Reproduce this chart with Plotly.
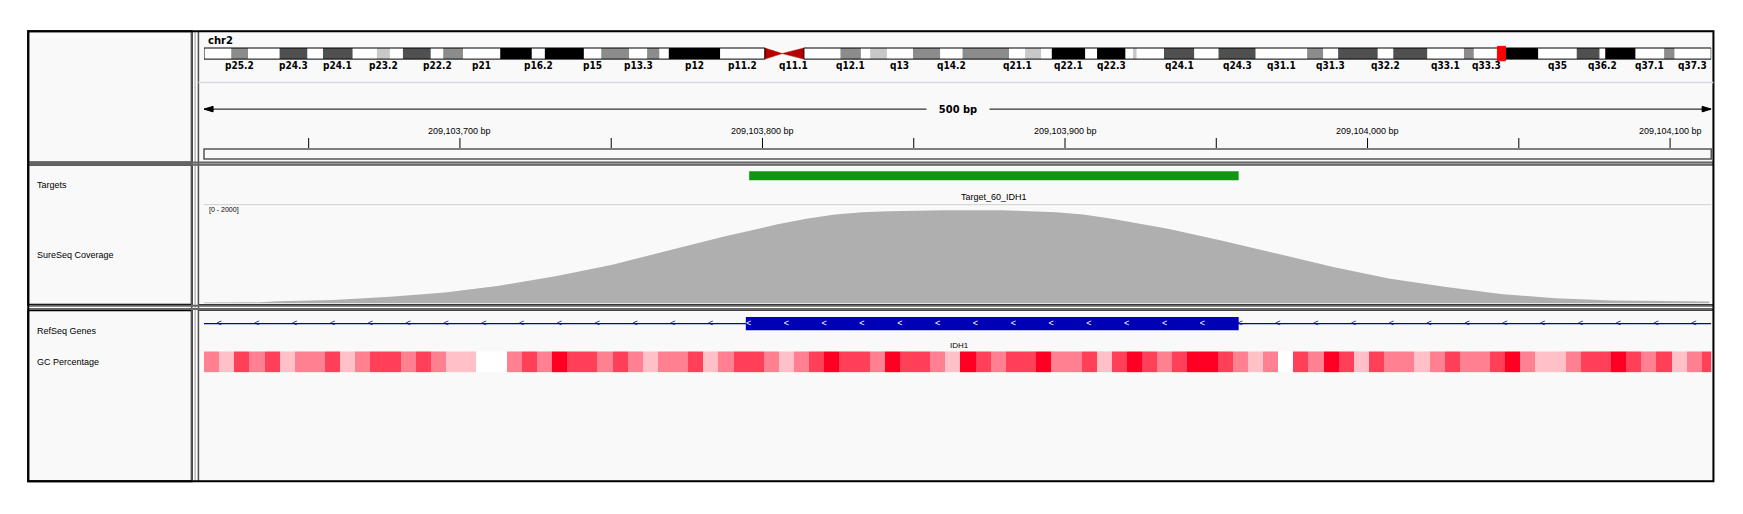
import plotly.graph_objects as go

W, H = 1743, 514
# reference-measured coordinates are converted to page pixels
def tx(p): return (p - 6.8) / 0.899
def ty(p): return (p - 6.0) / 0.9
def px(x): return tx(x) / W
def py(y): return 1 - ty(y) / H

# ---------------- data ----------------
region_start, region_end = 209103615.4, 209104113.6
ruler_ticks = [209103700, 209103800, 209103900, 209104000, 209104100]
ruler_labels = ["209,103,700 bp", "209,103,800 bp", "209,103,900 bp", "209,104,000 bp", "209,104,100 bp"]
minor_ticks = [209103650, 209103750, 209103850, 209103950, 209104050]

target_start, target_end = 209103795.6, 209103957.4
target_name = "Target_60_IDH1"
exon_start, exon_end = 209103794.5, 209103957.4
gene_name = "IDH1"
gene_label_pos = 209103865

cov_pos = [209103615, 209103634, 209103640, 209103658, 209103677, 209103695, 209103713, 209103732, 209103750,
           209103769, 209103787, 209103805, 209103815, 209103824, 209103833, 209103842, 209103860, 209103879,
           209103897, 209103906, 209103915, 209103934, 209103952, 209103971, 209103989, 209104007, 209104026,
           209104044, 209104062, 209104081, 209104099, 209104113]
cov_val = [20, 25, 50, 75, 140, 230, 370, 570, 800, 1100, 1380, 1640, 1760, 1840, 1890, 1910, 1930, 1930,
           1890, 1840, 1760, 1550, 1300, 1020, 750, 520, 340, 200, 110, 65, 45, 40]

gc_levels = [2,1,3,2,3,1,2,2,3,1, 2,3,3,2,3,2,1,1,0,0, 2,3,2,4,3,3,2,3,2,1,
             2,2,3,1,2,3,3,2,1,2, 3,4,3,3,2,4,3,3,2,1, 4,3,2,3,3,4,2,2,3,1,
             3,4,3,2,3,4,4,3,2,1, 2,0,3,2,4,3,1,3,2,2, 1,2,3,2,2,3,4,2,1,1,
             2,3,3,4,3,2,3,1,2,3]
gc_bin = 5

chrom_len = 243.2e6
bands = [("p25.3",0,4.4,"gneg"),("p25.2",4.4,7.1,"gpos50"),("p25.1",7.1,12.2,"gneg"),("p24.3",12.2,16.7,"gpos75"),
("p24.2",16.7,19.2,"gneg"),("p24.1",19.2,24.0,"gpos75"),("p23.3",24.0,27.9,"gneg"),("p23.2",27.9,30.0,"gpos25"),
("p23.1",30.0,32.1,"gneg"),("p22.3",32.1,36.6,"gpos75"),("p22.2",36.6,38.6,"gneg"),("p22.1",38.6,41.8,"gpos50"),
("p21",41.8,47.8,"gneg"),("p16.3",47.8,52.9,"gpos100"),("p16.2",52.9,55.0,"gneg"),("p16.1",55.0,61.3,"gpos100"),
("p15",61.3,64.1,"gneg"),("p14",64.1,68.6,"gpos50"),("p13.3",68.6,71.5,"gneg"),("p13.2",71.5,73.5,"gpos50"),
("p13.1",73.5,75.0,"gneg"),("p12",75.0,83.3,"gpos100"),("p11.2",83.3,90.5,"gneg"),("p11.1",90.5,93.3,"acen"),
("q11.1",93.3,96.8,"acen"),("q11.2",96.8,102.7,"gneg"),("q12.1",102.7,106.0,"gpos50"),("q12.2",106.0,107.5,"gneg"),
("q12.3",107.5,110.2,"gpos25"),("q13",110.2,114.4,"gneg"),("q14.1",114.4,118.8,"gpos50"),("q14.2",118.8,122.4,"gneg"),
("q14.3",122.4,129.9,"gpos50"),("q21.1",129.9,132.5,"gneg"),("q21.2",132.5,135.1,"gpos25"),("q21.3",135.1,136.8,"gneg"),
("q22.1",136.8,142.2,"gpos100"),("q22.2",142.2,144.1,"gneg"),("q22.3",144.1,148.7,"gpos100"),("q23.1",148.7,149.9,"gneg"),
("q23.2",149.9,150.5,"gpos25"),("q23.3",150.5,154.9,"gneg"),("q24.1",154.9,159.8,"gpos75"),("q24.2",159.8,163.7,"gneg"),
("q24.3",163.7,169.7,"gpos75"),("q31.1",169.7,178.0,"gneg"),("q31.2",178.0,180.6,"gpos50"),("q31.3",180.6,183.0,"gneg"),
("q32.1",183.0,189.4,"gpos75"),("q32.2",189.4,191.9,"gneg"),("q32.3",191.9,197.4,"gpos75"),("q33.1",197.4,203.3,"gneg"),
("q33.2",203.3,204.9,"gpos50"),("q33.3",204.9,209.0,"gneg"),("q34",209.0,215.3,"gpos100"),("q35",215.3,221.5,"gneg"),
("q36.1",221.5,225.2,"gpos75"),("q36.2",225.2,226.1,"gneg"),("q36.3",226.1,231.0,"gpos100"),("q37.1",231.0,235.6,"gneg"),
("q37.2",235.6,237.3,"gpos50"),("q37.3",237.3,243.2,"gneg")]
shown_labels = ["p25.2","p24.3","p24.1","p23.2","p22.2","p21","p16.2","p15","p13.3","p12","p11.2","q11.1",
                "q12.1","q13","q14.2","q21.1","q22.1","q22.3","q24.1","q24.3","q31.1","q31.3","q32.2",
                "q33.1","q33.3","q35","q36.2","q37.1","q37.3"]
stain_col = {"gneg":"#ffffff","gpos25":"#c8c8c8","gpos50":"#8c8c8c","gpos75":"#505050","gpos100":"#000000"}
current_pos = 209.1e6

# ---------------- layout geometry ----------------
DX0, DX1 = 183, 1538
dom = [px(DX0), px(DX1)]
bg = "#f9f9f9"

fig = go.Figure()
shapes, ann = [], []

def A(**k):
    k.setdefault("showarrow", False)
    k.setdefault("yanchor", "middle")
    ann.append(k)

for (y0, y1) in [(27, 145), (147, 273), (278, 432)]:
    shapes.append(dict(type="rect", xref="paper", yref="paper", x0=px(25), x1=px(172), y0=py(y1), y1=py(y0),
                       fillcolor=bg, line=dict(color="black", width=2), layer="below"))
    shapes.append(dict(type="rect", xref="paper", yref="paper", x0=px(178), x1=px(1540), y0=py(y1), y1=py(y0),
                       fillcolor=bg, line=dict(color="black", width=1), layer="below"))
for xx, c in [(172, "#555555"), (175, "#bbbbbb"), (178, "#555555")]:
    shapes.append(dict(type="line", xref="paper", yref="paper", x0=px(xx), x1=px(xx), y0=py(432), y1=py(27),
                       line=dict(color=c, width=1.5)))
for yy in [145, 147, 274, 277]:
    shapes.append(dict(type="line", xref="paper", yref="paper", x0=px(25), x1=px(1540), y0=py(yy), y1=py(yy),
                       line=dict(color="#666666", width=2)))
shapes.append(dict(type="rect", xref="paper", yref="paper", x0=px(25), x1=px(1540), y0=py(432), y1=py(27),
                   line=dict(color="black", width=2)))

# ideogram
IY0, IY1 = 42, 52
for name, s, e, st in bands:
    if st == "acen":
        if name.startswith("p"):
            path = f"M {s*1e6} {py(IY0)} L {e*1e6} {py((IY0+IY1)/2)} L {s*1e6} {py(IY1)} Z"
        else:
            path = f"M {e*1e6} {py(IY0)} L {s*1e6} {py((IY0+IY1)/2)} L {e*1e6} {py(IY1)} Z"
        shapes.append(dict(type="path", xref="x2", yref="paper", path=path, fillcolor="#b40000",
                           line=dict(color="#b40000", width=0.5)))
    else:
        shapes.append(dict(type="rect", xref="x2", yref="paper", x0=s*1e6, x1=e*1e6, y0=py(IY1), y1=py(IY0),
                           fillcolor=stain_col[st], line=dict(color="black", width=0)))
    if name in shown_labels:
        A(x=(s+e)/2*1e6, y=py(57.5), xref="x2", yref="paper", text="<b>" + name + "</b>",
          font=dict(family="DejaVu Sans Condensed", size=10, color="black"))
for (a, b) in [(0, 90.5e6), (96.8e6, chrom_len)]:
    shapes.append(dict(type="rect", xref="x2", yref="paper", x0=a, x1=b, y0=py(IY1), y1=py(IY0),
                       line=dict(color="black", width=1)))
shapes.append(dict(type="rect", xref="x2", yref="paper", x0=current_pos-0.4e6, x1=current_pos+0.9e6,
                   y0=py(IY1+1.5), y1=py(IY0-1.5), fillcolor="red", line=dict(color="red", width=1)))
A(x=px(185), y=py(35), xref="paper", yref="paper", text="<b>chr2</b>", xanchor="left",
  font=dict(family="DejaVu Sans", size=10, color="black"))
shapes.append(dict(type="line", xref="paper", yref="paper", x0=px(178), x1=px(1540), y0=py(73), y1=py(73),
                   line=dict(color="#d8d8e0", width=1.5)))

# ruler
shapes.append(dict(type="line", xref="x", yref="paper", x0=region_start, x1=region_end, y0=py(97), y1=py(97),
                   line=dict(color="black", width=1)))
for xe, d in [(region_start, 3), (region_end, -3)]:
    shapes.append(dict(type="path", xref="x", yref="paper",
                       path=f"M {xe} {py(97)} L {xe+d} {py(94.5)} L {xe+d} {py(99.5)} Z",
                       fillcolor="black", line=dict(color="black", width=1)))
A(x=(region_start+region_end)/2, y=py(97), xref="x", yref="paper", text="<b>500 bp</b>", bgcolor=bg,
  borderpad=0, width=62, font=dict(family="DejaVu Sans Condensed", size=11, color="black"))
for t, lab in zip(ruler_ticks, ruler_labels):
    A(x=t, y=py(117), xref="x", yref="paper", text=lab, font=dict(family="Liberation Sans", size=9, color="black"))
for t in ruler_ticks + minor_ticks:
    shapes.append(dict(type="line", xref="x", yref="paper", x0=t, x1=t, y0=py(132), y1=py(123),
                       line=dict(color="black", width=1)))
shapes.append(dict(type="rect", xref="paper", yref="paper", x0=px(DX0), x1=px(DX1), y0=py(142), y1=py(133),
                   line=dict(color="#555555", width=1.5)))

# targets
shapes.append(dict(type="rect", xref="x", yref="paper", x0=target_start, x1=target_end, y0=py(161), y1=py(153),
                   fillcolor="#129612", line=dict(width=0)))
A(x=(target_start+target_end)/2, y=py(176), xref="x", yref="paper", text=target_name,
  font=dict(family="Liberation Sans", size=9, color="black"))
shapes.append(dict(type="line", xref="paper", yref="paper", x0=px(DX0), x1=px(DX1), y0=py(183), y1=py(183),
                   line=dict(color="#d0d0d0", width=1)))
A(x=px(186), y=py(188), xref="paper", yref="paper", text="[0 - 2000]", xanchor="left",
  font=dict(family="Liberation Sans", size=7, color="black"))

# coverage
fig.add_trace(go.Scatter(x=cov_pos, y=cov_val, xaxis="x", yaxis="y2", mode="lines", fill="tozeroy",
                         line=dict(color="#afafaf", width=0), fillcolor="#afafaf", hoverinfo="skip"))

# gene
shapes.append(dict(type="line", xref="x", yref="paper", x0=region_start, x1=region_end, y0=py(290), y1=py(290),
                   line=dict(color="#0000b4", width=1.2), layer="below"))
shapes.append(dict(type="rect", xref="x", yref="paper", x0=exon_start, x1=exon_end, y0=py(296), y1=py(284),
                   fillcolor="#0000b4", line=dict(width=0), layer="below"))
chev = [region_start + 5 + 12.5*i for i in range(40) if region_start + 5 + 12.5*i < region_end]
fig.add_trace(go.Scatter(x=chev, y=[0.5]*len(chev), xaxis="x", yaxis="y4", mode="text", text=["<"]*len(chev),
                         textfont=dict(size=9, color=["white" if exon_start < c < exon_end else "#0000b4" for c in chev],
                                       family="Liberation Sans"), hoverinfo="skip"))
A(x=gene_label_pos, y=py(310), xref="x", yref="paper", text=gene_name,
  font=dict(family="Liberation Sans", size=8, color="black"))

# GC
gc_x = [region_start + gc_bin*(i+0.5) for i in range(len(gc_levels))]
fig.add_trace(go.Heatmap(x=gc_x, y=[0], z=[gc_levels], xaxis="x", yaxis="y3", zmin=0, zmax=4, showscale=False,
                         colorscale=[[0, "#ffffff"], [0.25, "#ffc0c8"], [0.5, "#ff8090"], [0.75, "#ff4058"], [1, "#ff0024"]],
                         hoverinfo="skip"))

for t, yy in [("Targets", 165), ("SureSeq Coverage", 228), ("RefSeq Genes", 297), ("GC Percentage", 325)]:
    A(x=px(31), y=py(yy), xref="paper", yref="paper", text=t, xanchor="left",
      font=dict(family="Liberation Sans", size=9, color="black"))

ax = dict(showgrid=False, zeroline=False, showticklabels=False, ticks="", showline=False)
fig.update_layout(
    width=W, height=H, margin=dict(l=0, r=0, t=0, b=0), paper_bgcolor="white", plot_bgcolor="rgba(0,0,0,0)",
    showlegend=False, shapes=shapes, annotations=ann,
    xaxis=dict(domain=dom, range=[region_start, region_end], **ax),
    xaxis2=dict(domain=dom, range=[0, chrom_len], anchor="y5", **ax),
    yaxis2=dict(domain=[py(272), py(185)], range=[0, 2000], anchor="x", **ax),
    yaxis3=dict(domain=[py(334), py(315)], range=[-0.5, 0.5], anchor="x", **ax),
    yaxis4=dict(domain=[py(296), py(284)], range=[0, 1], anchor="x", **ax),
    yaxis5=dict(domain=[py(52), py(42)], range=[0, 1], anchor="x2", **ax),
    yaxis=dict(domain=[0, 0.01], **ax),
)
fig.write_html("out.html")
